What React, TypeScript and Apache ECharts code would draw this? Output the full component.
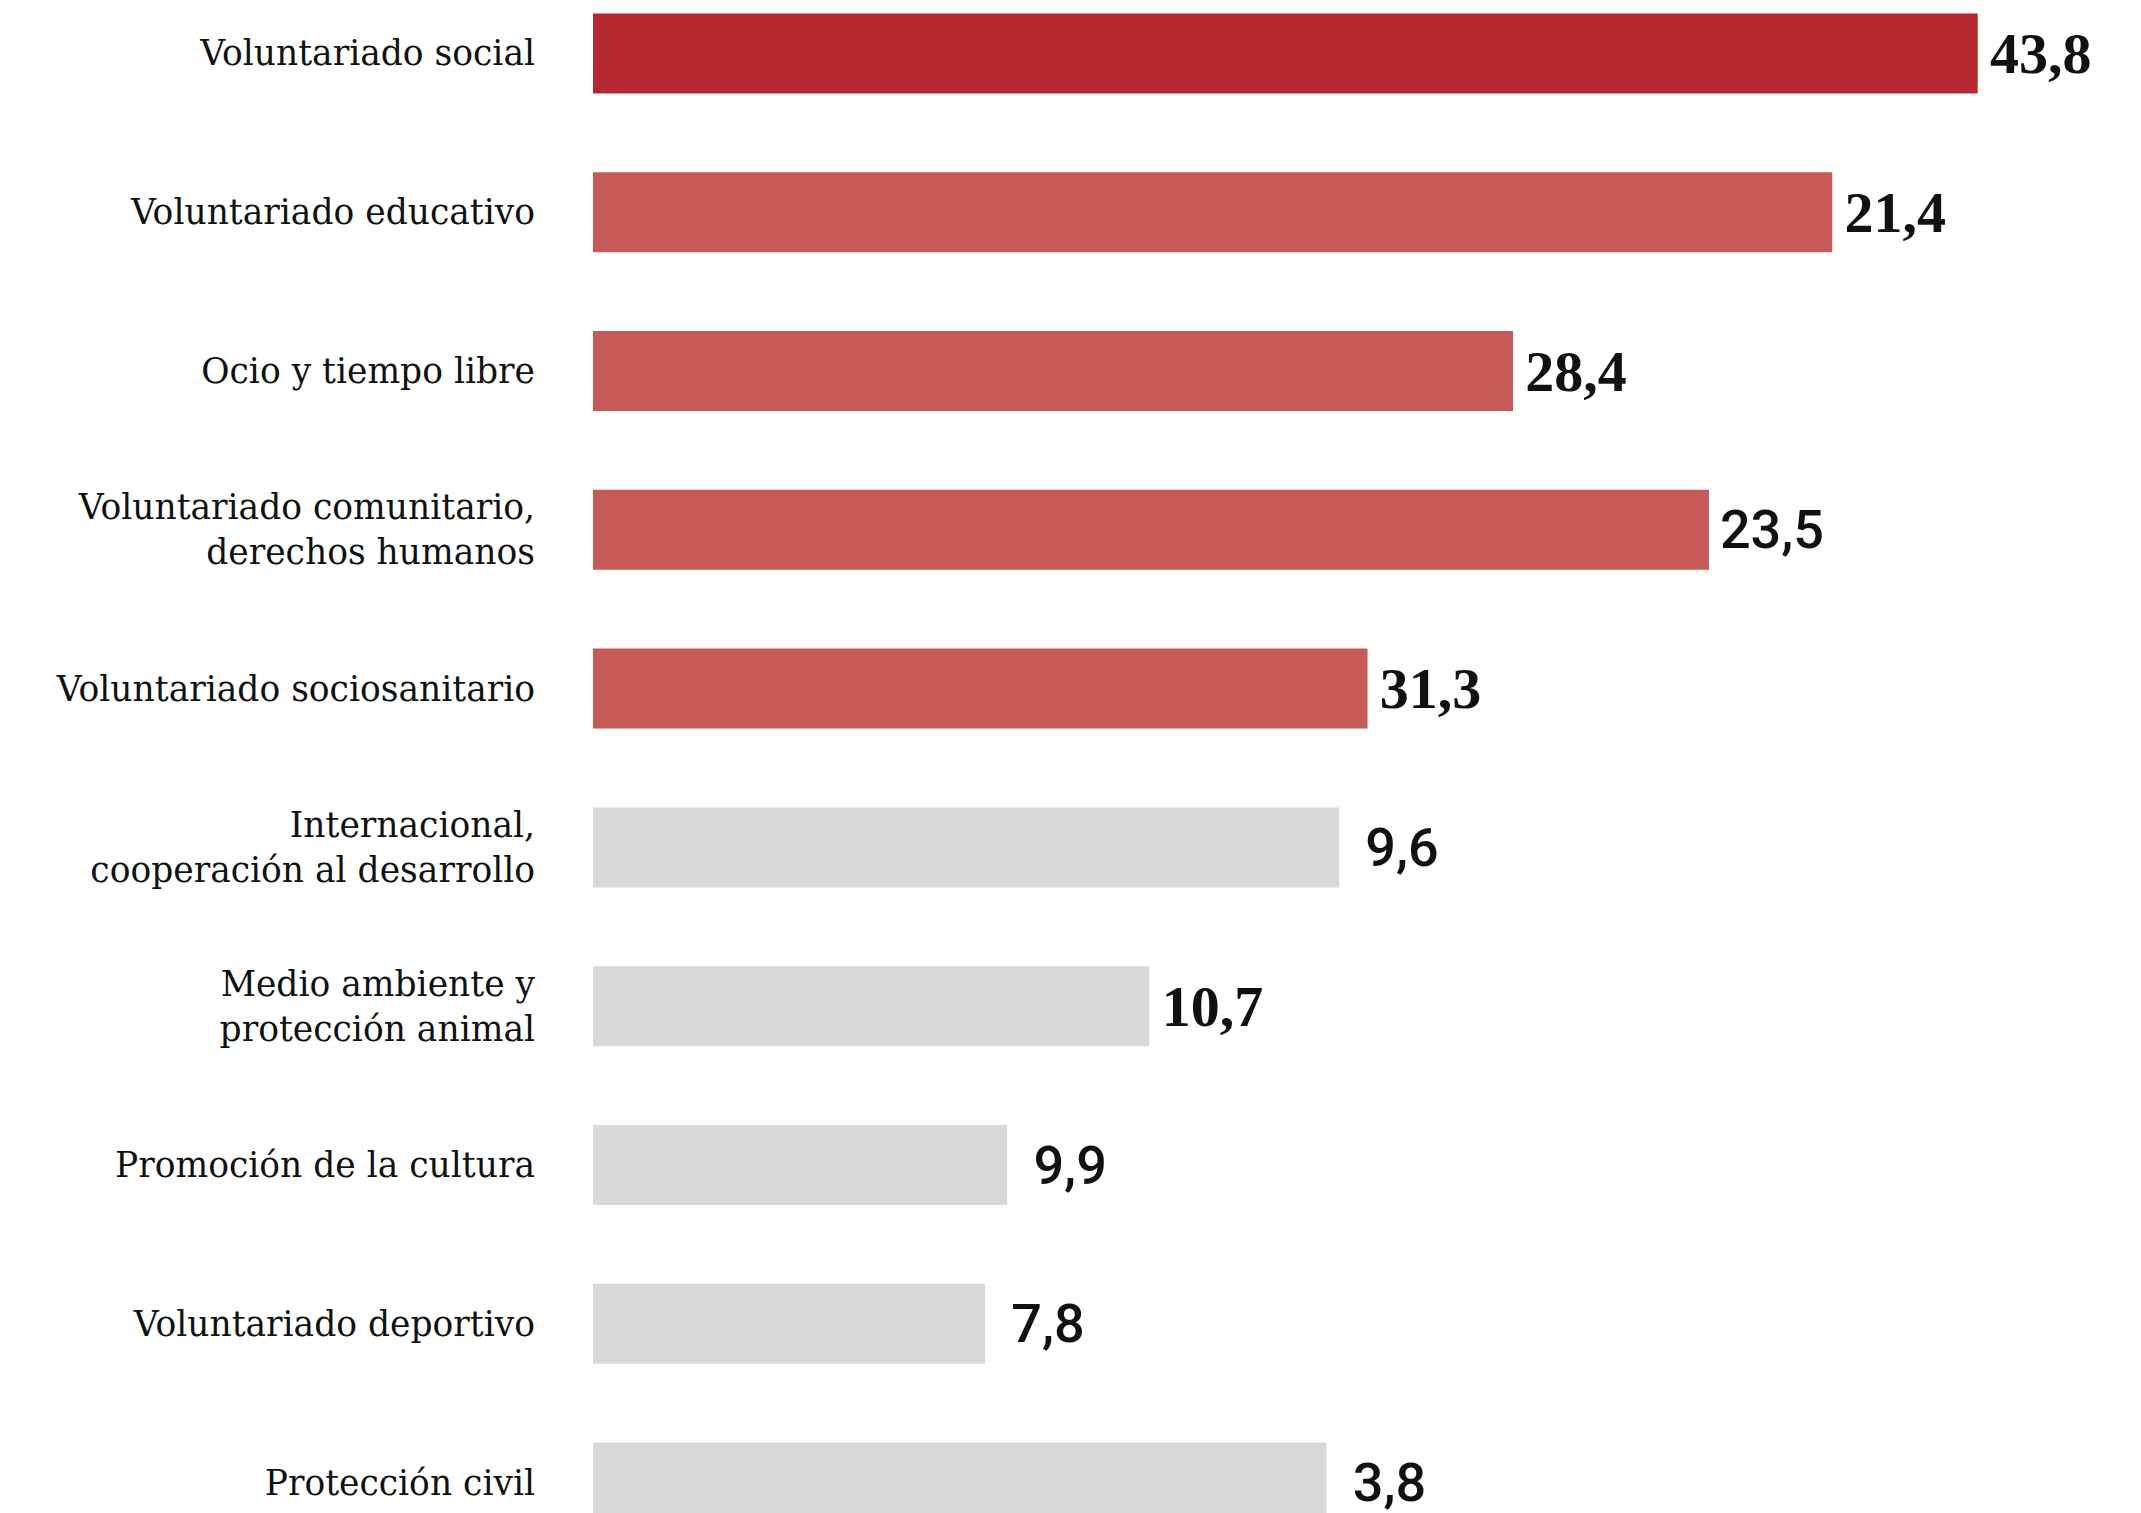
import React, { useEffect, useRef } from "react";
import * as echarts from "echarts";

const categories = [
  "Voluntariado social",
  "Voluntariado educativo",
  "Ocio y tiempo libre",
  "Voluntariado comunitario,\nderechos humanos",
  "Voluntariado sociosanitario",
  "Internacional,\ncooperación al desarrollo",
  "Medio ambiente y\nprotección animal",
  "Promoción de la cultura",
  "Voluntariado deportivo",
  "Protección civil",
];

// bar lengths as drawn in the picture (same scale as the top bar = 43,8)
const barValues = [43.8, 39.2, 29.1, 35.3, 24.5, 23.6, 17.6, 13.1, 12.4, 23.2];

// printed value labels
const labelValues = ["43,8", "21,4", "28,4", "23,5", "31,3", "9,6", "10,7", "9,9", "7,8", "3,8"];

// which labels are in the slab/serif face (others in a sans face)
const serifLabel = [true, true, true, false, true, false, true, false, false, false];

const barColors = [
  "#B5282F",
  "#C55A56",
  "#C55A56",
  "#C55A56",
  "#C55A56",
  "#D9D9D9",
  "#D9D9D9",
  "#D9D9D9",
  "#D9D9D9",
  "#D9D9D9",
];

export default function App() {
  const ref = useRef<HTMLDivElement>(null);

  useEffect(() => {
    document.body.style.margin = "0";
    document.body.style.overflow = "hidden";
    const chart = echarts.init(ref.current!, undefined, { renderer: "svg" });
    const serifFont = "'DejaVu Serif', serif";
    chart.setOption({
      animation: false,
      backgroundColor: "#ffffff",
      grid: { left: 593, top: 0, width: 1391, height: 1588, containLabel: false },
      xAxis: {
        type: "value",
        min: 0,
        max: 44,
        show: false,
      },
      yAxis: {
        type: "category",
        data: categories,
        inverse: true,
        axisLine: { show: false },
        axisTick: { show: false },
        splitLine: { show: false },
        axisLabel: {
          color: "#111111",
          fontFamily: serifFont,
          fontSize: 34.5,
          lineHeight: 45,
          margin: 58,
          align: "right",
        },
      },
      series: [
        {
          type: "bar",
          barWidth: 80,
          data: barValues.map((v, i) => ({
            value: v,
            itemStyle: { color: barColors[i] },
            label: {
              show: true,
              position: "right",
              distance: 63,
              align: "center",
              verticalAlign: "middle",
              formatter: () => labelValues[i],
              color: "#111111",
              fontFamily: serifLabel[i] ? "'Liberation Serif', serif" : "Roboto, sans-serif",
              fontWeight: serifLabel[i] ? "bold" : 500,
              fontSize: serifLabel[i] ? 58 : 54,
            },
          })),
        },
      ],
    });
    return () => chart.dispose();
  }, []);

  return (
    <div
      style={{
        position: "absolute",
        left: 0,
        top: 0,
        width: 2141,
        height: 1513,
        overflow: "hidden",
        background: "#ffffff",
      }}
    >
      <div
        ref={ref}
        style={{ position: "absolute", left: 0, top: -26, width: 2141, height: 1600 }}
      />
    </div>
  );
}
